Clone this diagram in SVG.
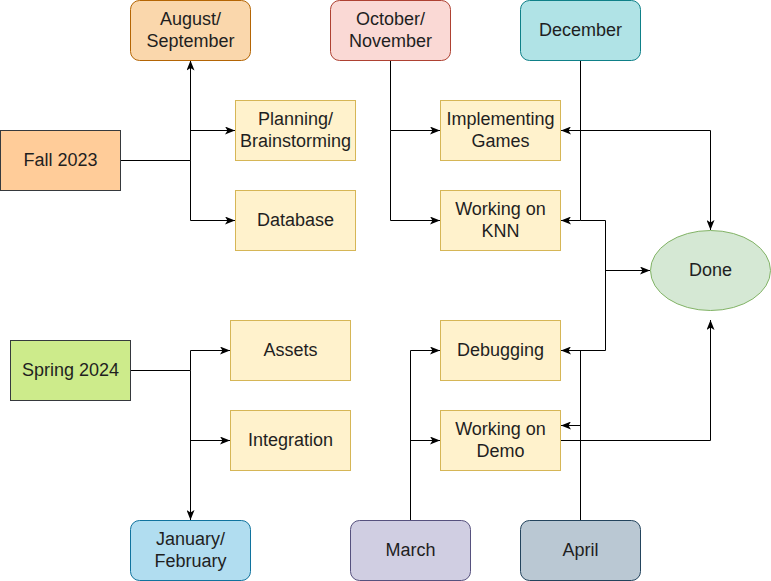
<svg xmlns="http://www.w3.org/2000/svg" width="771" height="581" viewBox="0 0 771 581">
<style>
text{font-family:"Liberation Sans",Arial,sans-serif;font-size:18px;fill:#1f1f1f;text-anchor:middle}
.task rect{fill:#fff2cc;stroke:#d6b656;stroke-width:1}
.c path{fill:none;stroke:#000;stroke-width:1}
</style>
<defs>
<marker id="a" viewBox="0 0 10 8" refX="10" refY="4" markerWidth="10" markerHeight="8" markerUnits="userSpaceOnUse" orient="auto-start-reverse">
<path d="M0,0 L10,4 L0,8 L2.5,4 z" fill="#000"/>
</marker>
</defs>
<rect width="771" height="581" fill="#fff"/>
<g class="c">
<path d="M120.5,160.5 H190.5 V60.5" marker-end="url(#a)"/>
<path d="M190.5,160.5 V130.5 H235" marker-end="url(#a)"/>
<path d="M190.5,160.5 V220.5 H235" marker-end="url(#a)"/>
<path d="M390.5,60.5 V130.5 H440" marker-end="url(#a)"/>
<path d="M390.5,130.5 V220.5 H440" marker-end="url(#a)"/>
<path d="M580.5,60.5 V220.5 H561" marker-end="url(#a)"/>
<path d="M561,130.5 H710.5 V230" marker-start="url(#a)" marker-end="url(#a)"/>
<path d="M580.5,220.5 H605.5 V350.5 H561" marker-end="url(#a)"/>
<path d="M605.5,270.5 H650" marker-end="url(#a)"/>
<path d="M410.5,520 V350.5 H440" marker-end="url(#a)"/>
<path d="M410.5,440.5 H440" marker-end="url(#a)"/>
<path d="M580.5,520 V350.5"/>
<path d="M580.5,425.5 H561" marker-end="url(#a)"/>
<path d="M560,440.5 H710.5 V320" marker-end="url(#a)"/>
<path d="M130.5,370.5 H190.5 V520" marker-end="url(#a)"/>
<path d="M190.5,370.5 V350.5 H230" marker-end="url(#a)"/>
<path d="M190.5,440.5 H230" marker-end="url(#a)"/>
</g>
<g id="fall2023"><rect x="0.5" y="130.5" width="120" height="60" fill="#ffcc99" stroke="#36393d"/><text x="60.5" y="165.5">Fall 2023</text></g>
<g id="augsep"><rect x="130.5" y="0.5" width="120" height="60" rx="9" fill="#fad7ac" stroke="#b46504"/><text x="190.5" y="24.5">August/</text><text x="190.5" y="46.5">September</text></g>
<g id="planning" class="task"><rect x="235.5" y="100.5" width="120" height="60"/><text x="295.5" y="124.5">Planning/</text><text x="295.5" y="146.5">Brainstorming</text></g>
<g id="database" class="task"><rect x="235.5" y="190.5" width="120" height="60"/><text x="295.5" y="225.5">Database</text></g>
<g id="octnov"><rect x="330.5" y="0.5" width="120" height="60" rx="9" fill="#fad9d5" stroke="#ae4132"/><text x="390.5" y="24.5">October/</text><text x="390.5" y="46.5">November</text></g>
<g id="december"><rect x="520.5" y="0.5" width="120" height="60" rx="9" fill="#b0e3e6" stroke="#0e8088"/><text x="580.5" y="35.5">December</text></g>
<g id="implementing" class="task"><rect x="440.5" y="100.5" width="120" height="60"/><text x="500.5" y="124.5">Implementing</text><text x="500.5" y="146.5">Games</text></g>
<g id="knn" class="task"><rect x="440.5" y="190.5" width="120" height="60"/><text x="500.5" y="214.5">Working on</text><text x="500.5" y="236.5">KNN</text></g>
<g id="done"><ellipse cx="710.5" cy="270.5" rx="60" ry="40" fill="#d5e8d4" stroke="#82b366"/><text x="710.5" y="275.5">Done</text></g>
<g id="spring2024"><rect x="10.5" y="340.5" width="120" height="60" fill="#cdeb8b" stroke="#36393d"/><text x="70.5" y="375.5">Spring 2024</text></g>
<g id="assets" class="task"><rect x="230.5" y="320.5" width="120" height="60"/><text x="290.5" y="355.5">Assets</text></g>
<g id="integration" class="task"><rect x="230.5" y="410.5" width="120" height="60"/><text x="290.5" y="445.5">Integration</text></g>
<g id="janfeb"><rect x="130.5" y="520.5" width="120" height="60" rx="9" fill="#b1ddf0" stroke="#10739e"/><text x="190.5" y="544.5">January/</text><text x="190.5" y="566.5">February</text></g>
<g id="debugging" class="task"><rect x="440.5" y="320.5" width="120" height="60"/><text x="500.5" y="355.5">Debugging</text></g>
<g id="demo" class="task"><rect x="440.5" y="410.5" width="120" height="60"/><text x="500.5" y="434.5">Working on</text><text x="500.5" y="456.5">Demo</text></g>
<g id="march"><rect x="350.5" y="520.5" width="120" height="60" rx="9" fill="#d0cee2" stroke="#56517e"/><text x="410.5" y="555.5">March</text></g>
<g id="april"><rect x="520.5" y="520.5" width="120" height="60" rx="9" fill="#bac8d3" stroke="#23445d"/><text x="580.5" y="555.5">April</text></g>
</svg>
